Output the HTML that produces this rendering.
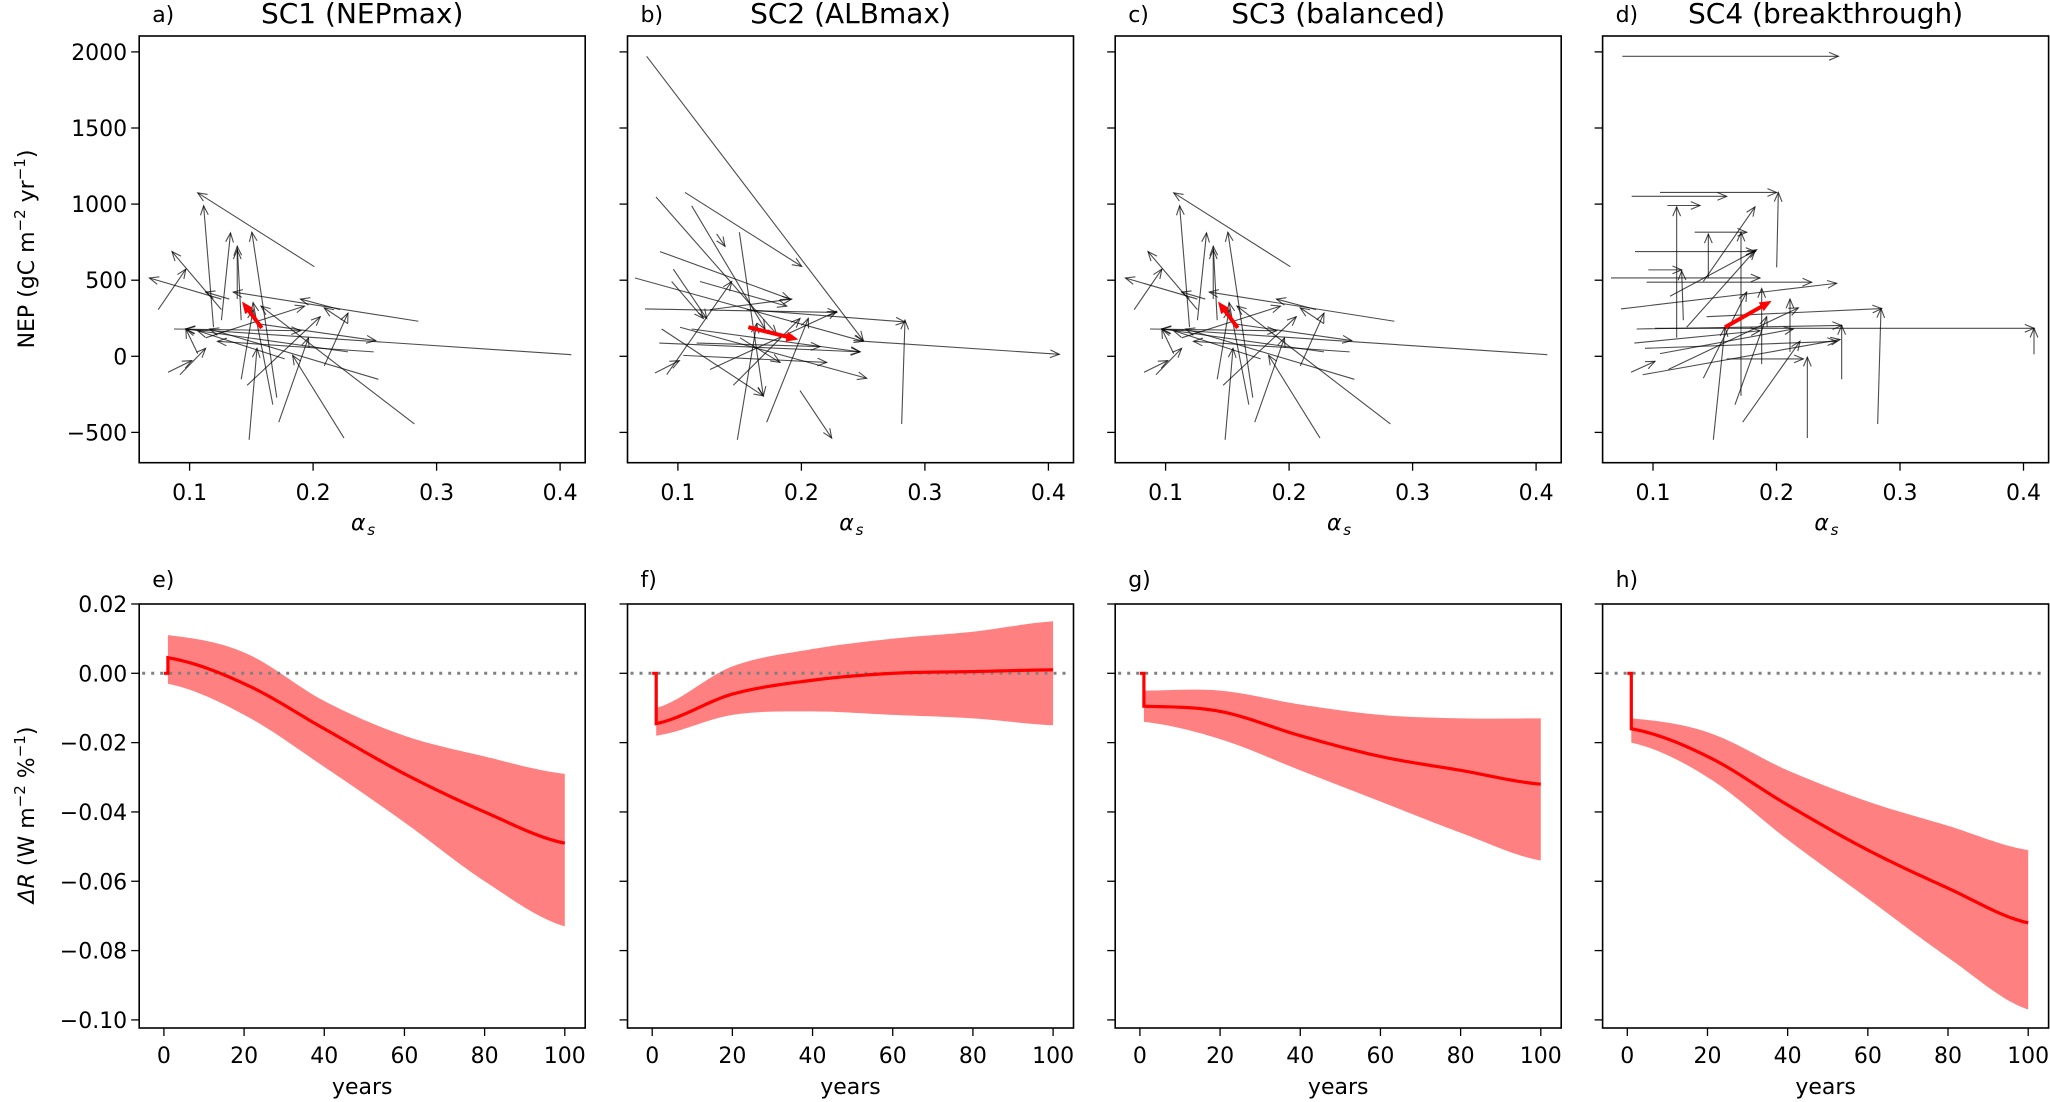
<!DOCTYPE html>
<html><head><meta charset="utf-8"><style>
html,body{margin:0;padding:0;background:#fff;}
svg{display:block;font-family:"DejaVu Sans","Liberation Sans",sans-serif;}
</style></head><body>
<svg id="s" width="2050" height="1102" viewBox="0 0 2050 1102" xmlns="http://www.w3.org/2000/svg">
<rect width="2050" height="1102" fill="#fff"/>
<text transform="translate(34,249) rotate(-90)" text-anchor="middle" font-size="22">NEP (gC m<tspan baseline-shift="super" font-size="15">−2</tspan> yr<tspan baseline-shift="super" font-size="15">−1</tspan>)</text>
<text transform="translate(34,815) rotate(-90)" text-anchor="middle" font-size="22"><tspan font-style="italic">ΔR</tspan> (W m<tspan baseline-shift="super" font-size="15">−2</tspan> %<tspan baseline-shift="super" font-size="15">−1</tspan>)</text>
</svg>
<script>
const NS="http://www.w3.org/2000/svg",S=document.getElementById('s');
function el(t,a,txt){const e=document.createElementNS(NS,t);for(const k in a)e.setAttribute(k,a[k]);if(txt!==undefined)e.textContent=txt;S.appendChild(e);return e;}
const L=[139.2,627.5,1115.2,1602.6],W=446;
const TT=36,TB=462.7,BT=604,BB=1028;
const titles=["SC1 (NEPmax)","SC2 (ALBmax)","SC3 (balanced)","SC4 (breakthrough)"];
const lt=["a)","b)","c)","d)"],lb=["e)","f)","g)","h)"];
function ax(a){return 50.4+(a-0.1)*1235;}
function ay(n){return 356.3-n*0.1522;}
function arrow(x1,y1,x2,y2,col,w,hl,op,fill){
  const ang=Math.atan2(y2-y1,x2-x1),a1=ang+Math.PI-0.4,a2=ang+Math.PI+0.4;
  const p1=[x2+hl*Math.cos(a1),y2+hl*Math.sin(a1)],p2=[x2+hl*Math.cos(a2),y2+hl*Math.sin(a2)];
  if(fill){el('line',{x1,y1,x2:x2-hl*0.6*Math.cos(ang),y2:y2-hl*0.6*Math.sin(ang),stroke:col,'stroke-width':w});
    el('polygon',{points:`${x2},${y2} ${p1[0]},${p1[1]} ${p2[0]},${p2[1]}`,fill:col});}
  else{el('polyline',{points:`${x1},${y1} ${x2},${y2}`,stroke:col,'stroke-width':w,fill:'none','stroke-opacity':op});
    el('polyline',{points:`${p1[0]},${p1[1]} ${x2},${y2} ${p2[0]},${p2[1]}`,stroke:col,'stroke-width':w,fill:'none','stroke-opacity':op});}
}
const A=[[795,758,500,548],[540,930,515,585],[560,910,583,662],[600,850,600,710],[610,910,600,700],[700,1130,637,660],[400,880,470,765],[560,880,435,715],[1058,913,590,830],[1445,1008,470,935],[650,920,950,968],[1048,1205,660,870],[870,1245,740,1010],[630,1250,650,990],[705,1200,780,960],[957,1078,530,935],[560,850,378,790],[425,1058,485,1025],[455,1065,520,990],[610,1078,640,880],[690,1150,640,860],[625,1095,810,900],[880,920,820,875],[880,1000,470,935],[945,1000,550,970],[860,880,760,850],[440,935,760,940],[720,1020,500,940],[580,850,520,830],[500,1005,470,935],[820,1040,880,890],[520,960,770,870]];
const AR=[662,932,612,857];
const B=[[140,160,790,968],[168,560,530,950],[255,547,605,757],[275,585,495,935],[418,660,490,1125],[412,1250,470,920],[500,1200,625,905],[600,1110,695,1245],[905,1205,915,910],[105,790,790,970],[135,878,710,888],[215,800,310,905],[760,968,1378,1007],[220,765,320,905],[180,715,570,850],[165,1060,238,1025],[200,1065,395,800],[185,935,490,1125],[240,930,800,1075],[178,975,780,1000],[275,935,780,1000],[330,880,575,850],[440,880,915,915],[400,1095,600,905],[330,1050,710,885],[290,975,660,985],[350,665,375,700],[250,1010,680,1030],[300,800,560,870],[420,960,540,1030]];
const BR=[445,930,595,965];
const D=[[187,160,835,160],[300,547,650,547],[650,760,655,547],[215,558,500,558],[322,584,420,584],[350,960,350,588],[404,660,560,660],[445,790,445,665],[430,800,585,588],[225,715,585,715],[265,767,365,767],[370,910,365,770],[153,790,600,790],[260,802,755,802],[183,878,830,805],[543,1125,543,660],[380,930,585,712],[330,842,590,710],[440,900,965,877],[953,1205,963,877],[285,933,1422,933],[1422,1007,1422,933],[230,935,845,925],[845,1078,845,925],[742,1245,742,1015],[460,1250,495,930],[548,1200,720,970],[430,1075,560,830],[525,1150,620,900],[213,1058,285,1027],[248,1065,840,965],[255,990,830,970],[223,975,600,940],[325,1050,715,875],[500,1020,730,1020],[300,1005,700,935],[605,1035,605,820],[690,1000,690,850]];
const DR=[495,930,635,855];
function drawSet(arr,red,ox,fx){
  for(const a of arr)arrow(ox+a[0]/fx,a[1]/2.842,ox+a[2]/fx,a[3]/2.842,'#000',1.1,10,0.7,false);
  arrow(ox+red[0]/fx,red[1]/2.842,ox+red[2]/fx,red[3]/2.842,'#f00',4,13,1,true);
}
for(let i=0;i<4;i++){
  const x0=L[i];
  el('text',{x:x0+W/2,y:23,'text-anchor':'middle','font-size':28},titles[i]);
  el('text',{x:x0+13,y:22,'font-size':22},lt[i]);
  for(const v of [2000,1500,1000,500,0,-500]){const y=ay(v);
    el('line',{x1:x0-8,y1:y,x2:x0,y2:y,stroke:'#000','stroke-width':1.3});
    if(i==0)el('text',{x:x0-12,y:y+8,'text-anchor':'end','font-size':22},v<0?'−'+(-v):String(v));}
  for(const v of [0.1,0.2,0.3,0.4]){const x=x0+ax(v);
    el('line',{x1:x,y1:TB,x2:x,y2:TB+8,stroke:'#000','stroke-width':1.3});
    el('text',{x:x,y:500,'text-anchor':'middle','font-size':22},v.toFixed(1));}
  el('text',{x:x0+W/2-4,y:530,'text-anchor':'middle','font-size':22,'font-style':'italic'},'α');
  el('text',{x:x0+W/2+9,y:535,'text-anchor':'middle','font-size':15,'font-style':'italic'},'s');
}
drawSet(A,AR,0,2.529);
drawSet(B,BR,600,3);
drawSet(A,AR,976,2.529);
drawSet(D,DR,1560,3);
const T=[1,20,40,60,80,100];
const data=[
 {m:[0.0045,-0.003,-0.016,-0.029,-0.040,-0.049],u:[0.011,0.006,-0.008,-0.018,-0.024,-0.029],l:[-0.003,-0.012,-0.027,-0.043,-0.060,-0.073]},
 {m:[-0.0145,-0.006,-0.002,0,0.0005,0.001],u:[-0.010,0.002,0.007,0.010,0.012,0.015],l:[-0.018,-0.012,-0.011,-0.012,-0.013,-0.015]},
 {m:[-0.0095,-0.011,-0.018,-0.024,-0.028,-0.032],u:[-0.005,-0.005,-0.009,-0.012,-0.013,-0.013],l:[-0.014,-0.019,-0.028,-0.037,-0.046,-0.054]},
 {m:[-0.016,-0.024,-0.038,-0.051,-0.062,-0.072],u:[-0.013,-0.017,-0.028,-0.037,-0.044,-0.051],l:[-0.020,-0.030,-0.048,-0.065,-0.082,-0.097]}];
function bx(t){return 24.7+t*4.009;}
function by(v){return BT+69.3-v*3466;}
function interp(arr,t){for(let k=0;k<T.length-1;k++){if(t<=T[k+1]){const f=(t-T[k])/(T[k+1]-T[k]);
  const p0=arr[Math.max(k-1,0)],p1=arr[k],p2=arr[k+1],p3=arr[Math.min(k+2,5)];
  return 0.5*((2*p1)+(-p0+p2)*f+(2*p0-5*p1+4*p2-p3)*f*f+(-p0+3*p1-3*p2+p3)*f*f*f);}}return arr[5];}
for(let i=0;i<4;i++){
  const x0=L[i],d=data[i];
  el('text',{x:x0+13,y:587,'font-size':22},lb[i]);
  let up=[],lo=[],mn=[];
  for(let t=1;t<=100;t+=1){up.push((x0+bx(t))+','+by(interp(d.u,t)));lo.push((x0+bx(t))+','+by(interp(d.l,t)));mn.push((x0+bx(t))+','+by(interp(d.m,t)));}
  el('polygon',{points:up.concat(lo.reverse()).join(' '),fill:'#ff8080'});
  el('line',{x1:x0+3,y1:by(0),x2:x0+W-3,y2:by(0),stroke:'#808080','stroke-width':3,'stroke-dasharray':'3,6'});
  el('polyline',{points:(x0+bx(0))+','+by(0)+' '+(x0+bx(1))+','+by(0)+' '+mn.join(' '),fill:'none',stroke:'#f00','stroke-width':3.2});
  for(const v of [0.02,0,-0.02,-0.04,-0.06,-0.08,-0.10]){const y=by(v);
    el('line',{x1:x0-8,y1:y,x2:x0,y2:y,stroke:'#000','stroke-width':1.3});
    if(i==0)el('text',{x:x0-12,y:y+8,'text-anchor':'end','font-size':22},(v<0?'−':'')+Math.abs(v).toFixed(2));}
  for(const t of [0,20,40,60,80,100]){const x=x0+bx(t);
    el('line',{x1:x,y1:BB,x2:x,y2:BB+8,stroke:'#000','stroke-width':1.3});
    el('text',{x:x,y:1063,'text-anchor':'middle','font-size':22},String(t));}
  el('text',{x:x0+W/2,y:1094,'text-anchor':'middle','font-size':22},'years');
}
for(let i=0;i<4;i++){
  el('rect',{x:L[i],y:TT,width:W,height:TB-TT,fill:'none',stroke:'#000','stroke-width':1.6});
  el('rect',{x:L[i],y:BT,width:W,height:BB-BT,fill:'none',stroke:'#000','stroke-width':1.6});
}
</script>
</body></html>
